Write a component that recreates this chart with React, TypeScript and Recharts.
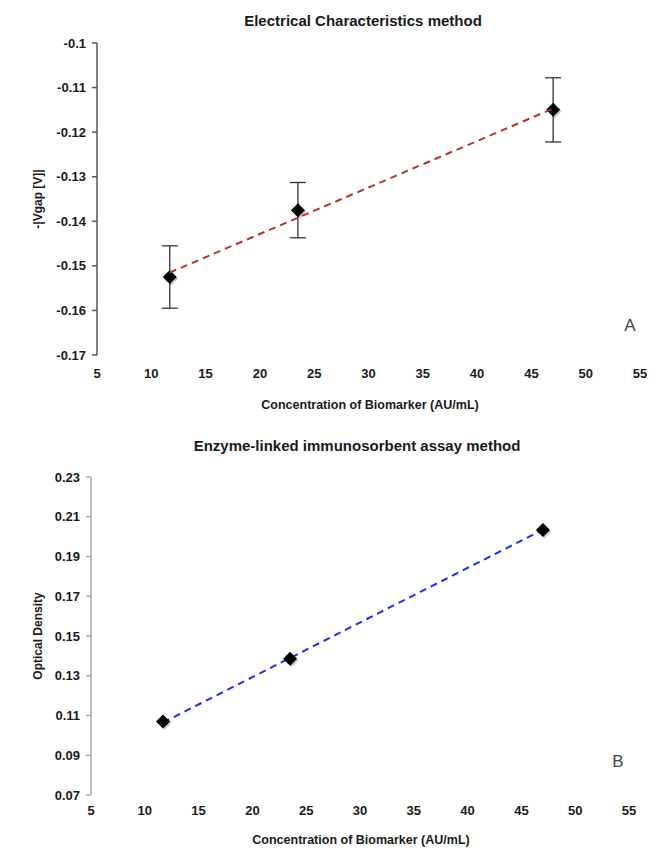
import React from 'react';
import { ScatterChart, Scatter, XAxis, YAxis, ErrorBar } from 'recharts';

// concentration of biomarker (AU/mL), shared by both panels
const concentration = [11.7, 23.5, 47.0];
const xTicks = [5, 10, 15, 20, 25, 30, 35, 40, 45, 50, 55];

// panel A: electrical method
const vgap = [-0.1525, -0.1375, -0.115];
const vgapErr = [0.007, 0.0062, 0.0072];
const trendAx = [11.7, 47.0];
const trendAy = [-0.1515, -0.1147];
const vgapTicks = [-0.17, -0.16, -0.15, -0.14, -0.13, -0.12, -0.11, -0.1];

// panel B: ELISA
const opticalDensity = [0.107, 0.1385, 0.2033];
const trendBx = [11.7, 47.0];
const trendBy = [0.1065, 0.2035];
const odTicks = [0.07, 0.09, 0.11, 0.13, 0.15, 0.17, 0.19, 0.21, 0.23];

const dataA = concentration.map((c, i) => ({ x: c, y: vgap[i], err: vgapErr[i] }));
const lineA = trendAx.map((c, i) => ({ x: c, y: trendAy[i] }));
const dataB = concentration.map((c, i) => ({ x: c, y: opticalDensity[i] }));
const lineB = trendBx.map((c, i) => ({ x: c, y: trendBy[i] }));

const FONT = '"Liberation Sans", Arial, Helvetica, sans-serif';
const tickStyle = { fill: '#1a1a1a', fontSize: 13, fontWeight: 700, fontFamily: FONT };

const Diamond = (props: any) => {
  const { cx, cy } = props;
  const r = 7;
  return (
    <g>
      <path d={`M${cx + 1.5},${cy - r + 1.5} L${cx + r + 1.5},${cy + 1.5} L${cx + 1.5},${cy + r + 1.5} L${cx - r + 1.5},${cy + 1.5}Z`} fill="rgba(0,0,0,0.22)" />
      <path d={`M${cx},${cy - r} L${cx + r},${cy} L${cx},${cy + r} L${cx - r},${cy}Z`} fill="#000" />
    </g>
  );
};

const NoDot = () => <g />;

const abs = (left: number, top: number, extra: React.CSSProperties = {}): React.CSSProperties => ({
  position: 'absolute', left, top, fontFamily: FONT, whiteSpace: 'nowrap', ...extra,
});

export default function App() {
  return (
    <div style={{ position: 'absolute', left: 0, top: 0, width: 659, height: 851, background: '#fff', overflow: 'hidden' }}>
      {/* Panel A */}
      <div style={abs(363, 20, { transform: 'translate(-50%,-50%)', fontSize: 15, fontWeight: 700, color: '#1a1a1a' })}>
        Electrical Characteristics method
      </div>
      <div style={abs(38, 199, { transform: 'translate(-50%,-50%) rotate(-90deg)', fontSize: 12, fontWeight: 700, color: '#1a1a1a' })}>
        -|Vgap [V]|
      </div>
      <div style={abs(370, 405, { transform: 'translate(-50%,-50%)', fontSize: 12.5, fontWeight: 700, color: '#1a1a1a' })}>
        Concentration of Biomarker (AU/mL)
      </div>
      <div style={abs(630, 326, { transform: 'translate(-50%,-50%)', fontSize: 17, color: '#444' })}>A</div>
      <div style={{ position: 'absolute', left: 0, top: 0 }}>
        <ScatterChart width={659} height={430} margin={{ top: 43, right: 19, bottom: 45, left: 0 }}>
          <XAxis type="number" dataKey="x" domain={[5, 55]} ticks={xTicks} axisLine={false} tickLine={false}
            tickMargin={8} height={30} tick={tickStyle} interval={0} />
          <YAxis type="number" dataKey="y" domain={[-0.17, -0.1]} ticks={vgapTicks} width={97} interval={0}
            axisLine={{ stroke: '#555', strokeWidth: 1.5 }} tickLine={{ stroke: '#555', strokeWidth: 1.5 }} tickSize={5}
            tickMargin={6} tick={tickStyle} />
          <Scatter data={dataA} shape={<Diamond />} isAnimationActive={false}>
            <ErrorBar dataKey="err" direction="y" width={8} stroke="#333" strokeWidth={1.3} isAnimationActive={false} />
          </Scatter>
          <Scatter data={lineA} line={{ stroke: '#b3332f', strokeWidth: 2, strokeDasharray: '7 5' }} shape={<NoDot />}
            isAnimationActive={false} />
        </ScatterChart>
      </div>

      {/* Panel B */}
      <div style={abs(357, 445, { transform: 'translate(-50%,-50%)', fontSize: 15, fontWeight: 700, color: '#1a1a1a' })}>
        Enzyme-linked immunosorbent assay method
      </div>
      <div style={abs(38, 636, { transform: 'translate(-50%,-50%) rotate(-90deg)', fontSize: 12, fontWeight: 700, color: '#1a1a1a' })}>
        Optical Density
      </div>
      <div style={abs(361, 840, { transform: 'translate(-50%,-50%)', fontSize: 12.5, fontWeight: 700, color: '#1a1a1a' })}>
        Concentration of Biomarker (AU/mL)
      </div>
      <div style={abs(618, 762, { transform: 'translate(-50%,-50%)', fontSize: 17, color: '#444' })}>B</div>
      <div style={{ position: 'absolute', left: 0, top: 440 }}>
        <ScatterChart width={659} height={411} margin={{ top: 37, right: 30, bottom: 26, left: 0 }}>
          <XAxis type="number" dataKey="x" domain={[5, 55]} ticks={xTicks} axisLine={false} tickLine={false}
            tickMargin={5} height={30} tick={tickStyle} interval={0} />
          <YAxis type="number" dataKey="y" domain={[0.07, 0.23]} ticks={odTicks} width={91} interval={0}
            axisLine={{ stroke: '#aaa', strokeWidth: 1.5 }} tickLine={{ stroke: '#aaa', strokeWidth: 1.5 }} tickSize={5}
            tickMargin={6} tick={tickStyle} />
          <Scatter data={lineB} line={{ stroke: '#1f2bff', strokeWidth: 2, strokeDasharray: '7 5' }} shape={<NoDot />}
            isAnimationActive={false} />
          <Scatter data={dataB} shape={<Diamond />} isAnimationActive={false} />
        </ScatterChart>
      </div>
    </div>
  );
}
